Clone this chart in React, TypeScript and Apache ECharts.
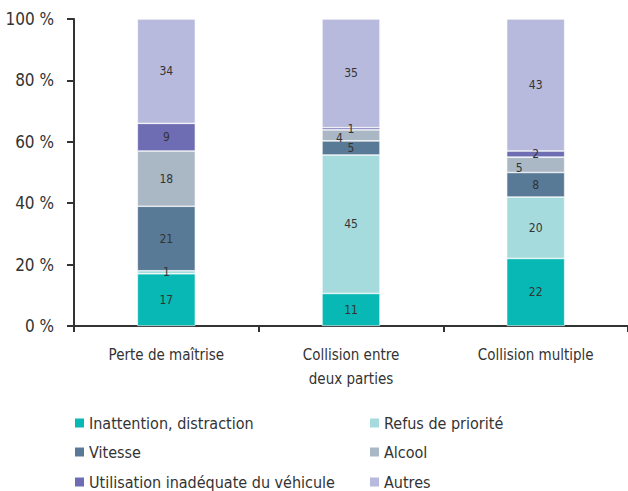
import React, { useEffect, useRef } from "react";
import * as echarts from "echarts";

const categories = ["Perte de maîtrise", "Collision entre\ndeux parties", "Collision multiple"];
const seriesNames = [
  "Inattention, distraction",
  "Refus de priorité",
  "Vitesse",
  "Alcool",
  "Utilisation inadéquate du véhicule",
  "Autres",
];
const inattention = [17, 10.6, 22];
const refus = [1, 45.1, 20];
const vitesse = [21, 4.6, 8];
const alcool = [18, 3.6, 5];
const utilisation = [9, 0.7, 2];
const autres = [34, 35.4, 43];
const yTicks = [0, 20, 40, 60, 80, 100];

const colors = ["#07b8b5", "#a6dbde", "#587a96", "#aab7c5", "#6e6db3", "#b7badc"];
const FONT = "'Liberation Sans Narrow', 'DejaVu Sans Condensed', 'Roboto', sans-serif";

export default function App() {
  const ref = useRef<HTMLDivElement>(null);
  useEffect(() => {
    if (!ref.current) return;
    const chart = echarts.init(ref.current, null, { renderer: "svg" });
    const values = [inattention, refus, vitesse, alcool, utilisation, autres];
    const alcoolOffsets = [0, 14, 9];
    const series = values.map((arr, si) => ({
      name: seriesNames[si],
      type: "bar",
      stack: "total",
      barWidth: 58,
      itemStyle: { color: colors[si], borderColor: "#ffffff", borderWidth: 0.6 },
      label: {
        show: true,
        position: "inside",
        color: "#333",
        fontSize: 12,
        fontFamily: FONT,
        formatter: (p: any) => String(Math.round(p.value)),
      },
      data: arr.map((v, ci) => {
        if (si === 3 && ci > 0) {
          return { value: v, label: { position: "insideLeft", distance: 0, offset: [alcoolOffsets[ci], 3] } };
        }
        return v;
      }),
    }));
    const legendPos = [
      [73, 415],
      [368, 415],
      [73, 444],
      [368, 444],
      [73, 474],
      [368, 474],
    ];
    const legends = seriesNames.map((n, i) => ({
      data: [n],
      left: legendPos[i][0],
      top: legendPos[i][1],
      icon: "rect",
      itemWidth: 11,
      itemHeight: 11,
      itemGap: 0,
      padding: 0,
      textStyle: { fontSize: 16, color: "#333", fontFamily: FONT, padding: [0, 0, 0, -1] },
      selectedMode: false,
    }));
    chart.setOption({
      animation: false,
      textStyle: { fontFamily: FONT },
      color: colors,
      grid: { left: 74, top: 19, width: 557, height: 307, containLabel: false },
      legend: legends,
      xAxis: {
        type: "category",
        data: categories,
        axisLine: { lineStyle: { color: "#333", width: 2 } },
        axisTick: { show: true, length: 6, lineStyle: { color: "#333", width: 2 } },
        axisLabel: { fontSize: 15, color: "#333", margin: 17, lineHeight: 24, fontFamily: FONT },
      },
      yAxis: {
        type: "value",
        min: yTicks[0],
        max: yTicks[yTicks.length - 1],
        interval: 20,
        axisLine: { show: true, lineStyle: { color: "#333", width: 2 } },
        axisTick: { show: true, length: 7, lineStyle: { color: "#333", width: 2 } },
        splitLine: { show: false },
        axisLabel: { fontSize: 17, color: "#333", margin: 20, formatter: "{value} %", fontFamily: FONT },
      },
      series,
    });
    return () => chart.dispose();
  }, []);
  return <div ref={ref} style={{ position: "absolute", left: 0, top: 0, width: 628, height: 491 }} />;
}
